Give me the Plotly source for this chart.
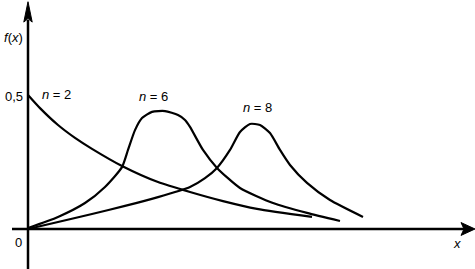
import plotly.graph_objects as go

# Curve data (x in arbitrary units, y = density f(x))
x_n2 = [0, 1.2, 3.0, 4.7, 6.4, 9.4, 13.0, 16.2, 19.5, 22.9, 28.4]
y_n2 = [0.5, 0.451, 0.388, 0.340, 0.299, 0.235, 0.175, 0.138, 0.104, 0.075, 0.045]

x_n6 = [0, 3.0, 5.7, 7.7, 9.4, 10.0, 10.7, 11.4, 12.4, 13.7, 15.0, 15.7, 16.2, 17.5, 18.9, 21.2, 24.5, 27.9, 31.2]
y_n6 = [0.004, 0.045, 0.097, 0.157, 0.231, 0.295, 0.369, 0.414, 0.437, 0.440, 0.425, 0.407, 0.381, 0.295, 0.228, 0.153, 0.097, 0.060, 0.030]

x_n8 = [0, 3.0, 6.4, 9.7, 13.0, 16.2, 17.7, 18.9, 20.2, 21.2, 22.2, 23.2, 24.2, 25.2, 26.2, 27.9, 30.2, 33.5]
y_n8 = [0.0, 0.026, 0.056, 0.086, 0.119, 0.157, 0.190, 0.228, 0.295, 0.362, 0.392, 0.388, 0.358, 0.295, 0.239, 0.172, 0.108, 0.045]

x_range = [-2.8, 44.7]
y_range = [-0.1493, 0.8545]

fig = go.Figure()
for xs, ys in [(x_n2, y_n2), (x_n6, y_n6), (x_n8, y_n8)]:
    fig.add_trace(go.Scatter(x=xs, y=ys, mode="lines",
                             line=dict(color="black", width=2.2, shape="spline", smoothing=0.6),
                             hoverinfo="skip", showlegend=False))

shapes = [
    # y axis
    dict(type="line", xref="x", yref="y", x0=0, x1=0, y0=y_range[0], y1=0.78,
         line=dict(color="black", width=2.5)),
    # x axis
    dict(type="line", xref="x", yref="y", x0=-1.6, x1=43.8, y0=0, y1=0,
         line=dict(color="black", width=2.5)),
    # y arrowhead
    dict(type="path", xref="x", yref="y",
         path="M 0 0.848 L -0.42 0.772 L 0 0.785 L 0.42 0.772 Z",
         fillcolor="black", line=dict(color="black", width=1)),
    # x arrowhead
    dict(type="path", xref="x", yref="y",
         path="M 44.7 0 L 43.3 -0.024 L 43.6 0 L 43.3 0.024 Z",
         fillcolor="black", line=dict(color="black", width=1)),
]

fnt = dict(family="Liberation Sans, Arial, sans-serif", size=13, color="black")

def px(xp, yp):
    return dict(xref="paper", yref="paper", x=xp / 475, y=1 - yp / 269,
                xanchor="center", yanchor="middle", showarrow=False, font=fnt)

annotations = [
    dict(text="<i>f</i>(<i>x</i>)", **px(13, 37)),
    dict(text="0,5", **px(14, 96)),
    dict(text="<i>n</i> = 2", **px(56, 94)),
    dict(text="<i>n</i> = 6", **px(153, 97)),
    dict(text="<i>n</i> = 8", **px(257, 107)),
    dict(text="0", **px(18, 242)),
    dict(text="<i>x</i>", **px(457, 243)),
]

fig.update_layout(
    width=475, height=269,
    margin=dict(l=0, r=0, t=0, b=0),
    paper_bgcolor="white", plot_bgcolor="white",
    xaxis=dict(range=x_range, visible=False, fixedrange=True),
    yaxis=dict(range=y_range, visible=False, fixedrange=True),
    shapes=shapes, annotations=annotations,
)

fig.write_html("out.html")
